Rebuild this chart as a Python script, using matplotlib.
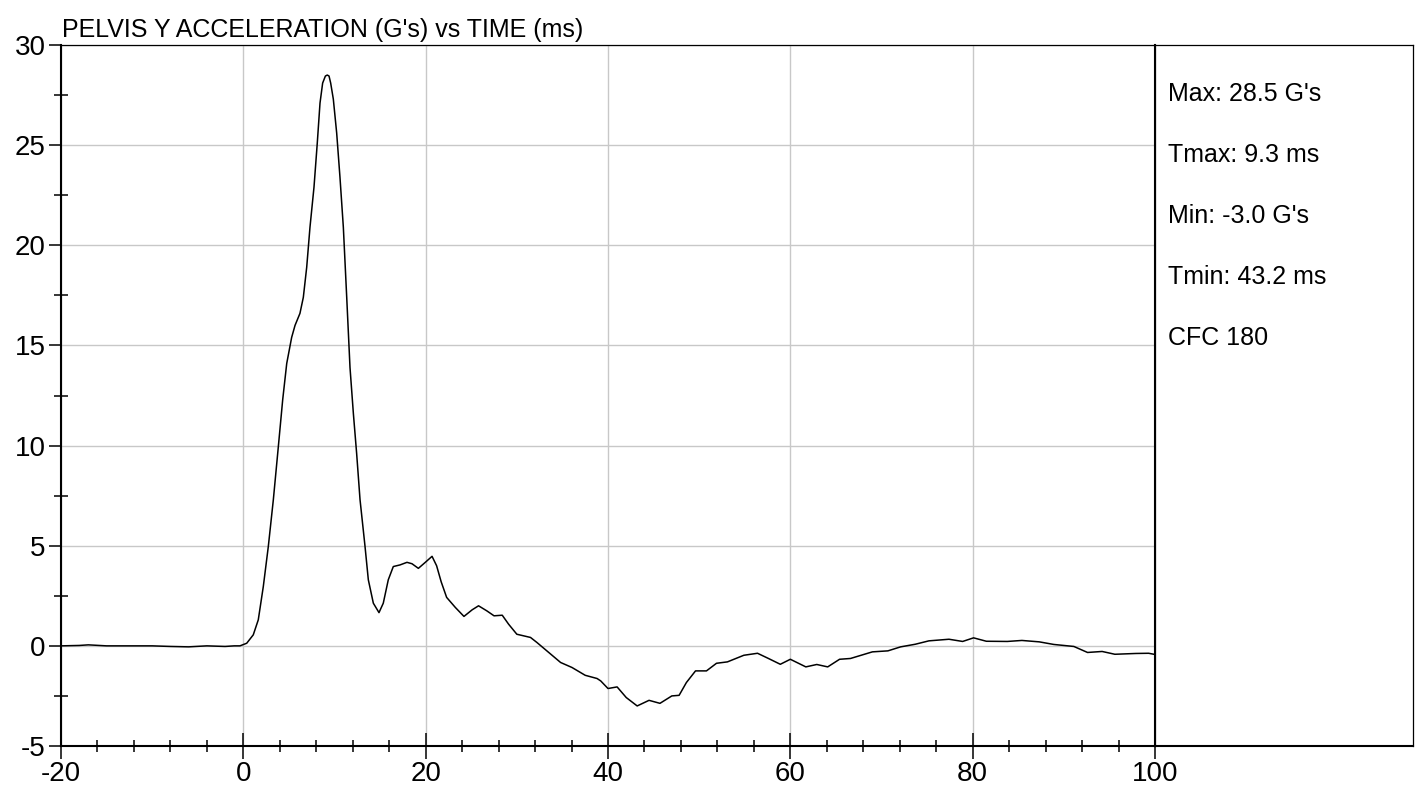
import matplotlib
matplotlib.use("Agg")
import matplotlib.pyplot as plt
from matplotlib.ticker import MultipleLocator

# Pelvis Y acceleration trace
time_ms = [
    -20, -18, -17, -15, -12, -10, -8, -6, -4, -2, -1, -0.37,
    0.37, 1.09, 1.64, 2.19, 2.74, 3.29, 3.84, 4.32, 4.76, 5.30, 5.67, 6.21,
    6.58, 6.95, 7.31, 7.75, 8.11, 8.41, 8.70, 9.0, 9.21, 9.40, 9.58, 9.87,
    10.24, 10.6, 10.97, 11.34, 11.70, 12.07, 12.43, 12.8, 13.34, 13.71, 14.26, 14.88,
    15.35, 15.9, 16.45, 17.18, 17.95, 18.5, 19.2, 19.96, 20.7, 21.2, 21.7, 22.3,
    23.25, 24.2, 25.1, 25.8, 26.7, 27.5, 28.4, 29.1, 30.0, 31.5, 32.2, 33.5,
    34.8, 36.05, 37.5, 38.8, 39.2, 40.0, 41.0, 42.0, 43.2, 44.5, 45.7, 47.0,
    47.8, 48.6, 49.6, 50.8, 51.9, 53.1, 54.9, 56.4, 57.6, 58.9, 60.0, 61.7,
    62.9, 64.1, 65.4, 66.6, 69.0, 70.7, 72.1, 73.7, 75.2, 77.4, 78.9, 80.1,
    81.5, 83.8, 85.4, 87.3, 88.9, 91.1, 92.6, 94.2, 95.6, 97.9, 99.3, 100,
]
accel_g = [
    0.0, 0.02, 0.05, 0.0, 0.0, 0.0, -0.03, -0.05, 0.0, -0.03, 0.0, 0.0,
    0.13, 0.55, 1.30, 2.96, 4.96, 7.29, 9.95, 12.3, 14.1, 15.4, 16.0, 16.6,
    17.4, 18.9, 20.9, 22.9, 25.1, 27.1, 28.1, 28.45, 28.5, 28.45, 28.1, 27.3,
    25.6, 23.4, 20.9, 17.4, 13.9, 11.6, 9.6, 7.3, 5.0, 3.3, 2.13, 1.66,
    2.13, 3.3, 3.96, 4.04, 4.17, 4.1, 3.87, 4.17, 4.47, 4.0, 3.2, 2.42,
    1.92, 1.47, 1.8, 2.0, 1.75, 1.5, 1.53, 1.08, 0.58, 0.42, 0.17, -0.33,
    -0.83, -1.08, -1.47, -1.63, -1.75, -2.13, -2.05, -2.58, -3.0, -2.72, -2.87, -2.5,
    -2.47, -1.83, -1.25, -1.25, -0.87, -0.8, -0.47, -0.37, -0.63, -0.92, -0.67, -1.05,
    -0.93, -1.05, -0.67, -0.63, -0.3, -0.25, -0.05, 0.08, 0.25, 0.33, 0.22, 0.4,
    0.23, 0.22, 0.27, 0.2, 0.07, -0.03, -0.33, -0.28, -0.42, -0.38, -0.37, -0.43,
]

TITLE = "PELVIS Y ACCELERATION (G's) vs TIME (ms)"
stats_lines = ["Max: 28.5 G's", "Tmax: 9.3 ms", "Min: -3.0 G's", "Tmin: 43.2 ms", "CFC 180"]
x_ticks = [-20, 0, 20, 40, 60, 80, 100]
y_ticks = [-5, 0, 5, 10, 15, 20, 25, 30]

W, H = 1421, 797
plt.rcParams["font.family"] = ["Liberation Sans", "DejaVu Sans"]
plt.rcParams["axes.unicode_minus"] = False

fig = plt.figure(figsize=(W / 100, H / 100), dpi=100)
ax = fig.add_axes([61 / W, 1 - 746 / H, (1155 - 61) / W, (746 - 45) / H])

ax.plot(time_ms, accel_g, color="black", lw=1.1, solid_joinstyle="round")

ax.set_xlim(-20, 100)
ax.set_ylim(-5, 30)
ax.set_xticks(x_ticks)
ax.set_yticks(y_ticks)
ax.xaxis.set_minor_locator(MultipleLocator(4))
ax.yaxis.set_minor_locator(MultipleLocator(2.5))
ax.grid(True, which="major", color="#c8c8c8", lw=1.0)
ax.set_axisbelow(True)

ax.tick_params(axis="x", which="major", direction="inout", length=19, width=1.1,
               labelsize=20, pad=1)
ax.tick_params(axis="x", which="minor", direction="inout", length=9, width=1.1)
ax.tick_params(axis="y", which="major", direction="out", length=9, width=1.1,
               labelsize=20, pad=2)
ax.tick_params(axis="y", which="minor", direction="inout", length=10, width=1.1)

for side in ("left", "bottom", "right"):
    ax.spines[side].set_linewidth(1.5)
ax.spines["top"].set_linewidth(0.9)

fig.text(62 / W, 1 - 37 / H, TITLE, fontsize=18, va="baseline", ha="left")

# stats panel to the right of the plot
panel = fig.add_axes([1155 / W, 1 - 746 / H, (1413 - 1155) / W, (746 - 45) / H])
panel.set_xticks([])
panel.set_yticks([])
for side in panel.spines:
    panel.spines[side].set_linewidth(0.9)
panel.spines["bottom"].set_linewidth(1.5)

for i, line in enumerate(stats_lines):
    fig.text(1168 / W, 1 - (101 + 61 * i) / H, line, fontsize=18,
             va="baseline", ha="left")

fig.savefig("out.png", dpi=100)
